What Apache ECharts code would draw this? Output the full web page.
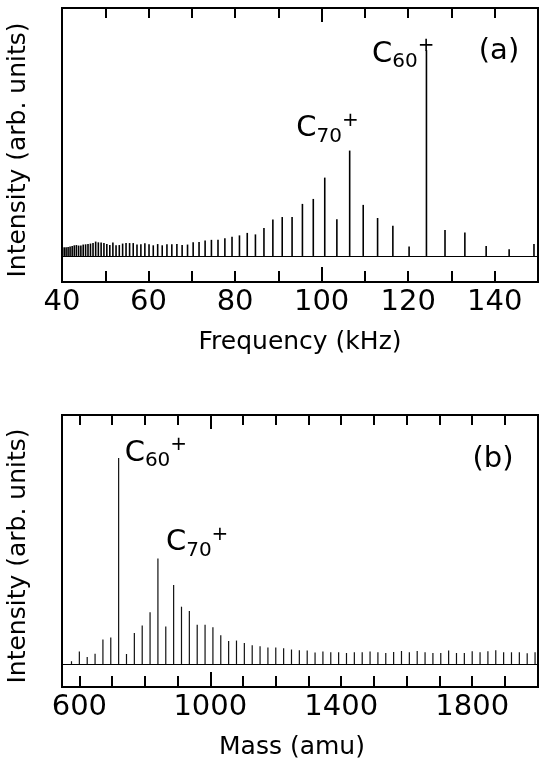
<!DOCTYPE html>
<html>
<head>
<meta charset="utf-8">
<script src="https://cdn.jsdelivr.net/npm/echarts@6/dist/echarts.min.js"></script>
<style>
  html, body { margin: 0; padding: 0; background: #fff; }
  #chart { width: 540px; height: 763px; }
</style>
</head>
<body>
<div id="chart"></div>
<script>
// (a) cyclotron frequency spectrum, peaks C50+ ... C186+
const freqA = [149.07, 143.33, 138.02, 133.10, 128.51, 124.22, 120.21, 116.46, 112.93, 109.61,
    106.48, 103.52, 100.72, 98.07, 95.56, 93.17, 90.89, 88.73, 86.67, 84.70,
    82.81, 81.01, 79.29, 77.64, 76.05, 74.53, 73.07, 71.67, 70.31, 69.01,
    67.76, 66.55, 65.38, 64.25, 63.16, 62.11, 61.09, 60.11, 59.15, 58.23,
    57.33, 56.46, 55.62, 54.80, 54.01, 53.24, 52.49, 51.76, 51.05, 50.36,
    49.69, 49.04, 48.40, 47.78, 47.17, 46.58, 46.01, 45.45, 44.90, 44.36,
    43.84, 43.33, 42.84, 42.35, 41.87, 41.41, 40.95, 40.51, 40.07];
const intensityA = [4.8, 2.7, 4.0, 9.5, 10.5, 83, 3.8, 12.2, 15.3, 20.6,
    42.5, 14.8, 31.6, 23, 21, 15.7, 15.7, 14.7, 11.3, 8.7,
    9.3, 8.3, 7.7, 7.1, 6.5, 6.5, 6.2, 5.6, 5.5, 4.6,
    4.4, 4.8, 4.7, 4.7, 4.3, 4.8, 4.3, 4.7, 5.1, 4.7,
    4.6, 5.2, 5.2, 5.2, 5.0, 4.4, 4.3, 5.4, 4.4, 4.8,
    5.2, 5.4, 5.5, 5.8, 5.2, 5.0, 4.8, 4.7, 4.6, 4.2,
    4.2, 4.4, 4.3, 4.0, 3.8, 3.6, 3.5, 3.5, 3.4];

// (b) mass spectrum, peaks C48+ ... C166+
const massB = [576, 600, 624, 648, 672, 696, 720, 744, 768, 792,
    816, 840, 864, 888, 912, 936, 960, 984, 1008, 1032,
    1056, 1080, 1104, 1128, 1152, 1176, 1200, 1224, 1248, 1272,
    1296, 1320, 1344, 1368, 1392, 1416, 1440, 1464, 1488, 1512,
    1536, 1560, 1584, 1608, 1632, 1656, 1680, 1704, 1728, 1752,
    1776, 1800, 1824, 1848, 1872, 1896, 1920, 1944, 1968, 1992];
const intensityB = [1.1, 5.0, 2.8, 4.1, 9.8, 10.6, 82.7, 4.0, 12.4, 15.5,
    20.8, 42.4, 15.0, 31.7, 23.0, 21.3, 15.8, 15.8, 14.7, 11.5,
    9.2, 9.4, 8.4, 7.5, 7.1, 6.6, 6.6, 6.3, 5.8, 5.5,
    5.4, 4.6, 5.0, 4.7, 4.7, 4.4, 4.7, 4.7, 5.0, 4.7,
    4.4, 4.8, 5.2, 4.7, 5.2, 4.7, 4.4, 4.4, 5.4, 4.4,
    4.4, 5.1, 4.7, 5.1, 5.5, 4.7, 4.7, 4.7, 4.3, 4.7];

const ticksA = [50, 60, 70, 80, 90, 100, 110, 120, 130, 140];
const tickLabelsA = [40, 60, 80, 100, 120, 140];
const ticksB = [600, 700, 800, 900, 1000, 1100, 1200, 1300, 1400, 1500, 1600, 1700, 1800, 1900];
const tickLabelsB = [600, 1000, 1400, 1800];

const FONT = 'DejaVu Sans';

function pairs(xs, ys) {
    return xs.map((x, i) => [x, ys[i]]);
}

function ionLabel(text, sub, align, offset) {
    return {
        show: true,
        position: 'inside',
        align: align,
        verticalAlign: 'middle',
        offset: offset,
        formatter: '{c|' + text + '}{n|' + sub + '}{p|+}',
        rich: {
            c: { fontSize: 29, lineHeight: 36, verticalAlign: 'middle', fontFamily: FONT, color: '#000' },
            n: { fontSize: 20, lineHeight: 20, verticalAlign: 'bottom', fontFamily: FONT, color: '#000' },
            p: { fontSize: 20, lineHeight: 14, verticalAlign: 'top', fontFamily: FONT, color: '#000' }
        }
    };
}

function xAxes(gridIndex, min, max, ticks, labels, longTick, name, namePad) {
    const base = {
        type: 'value', gridIndex: gridIndex, min: min, max: max,
        axisLine: { show: false, onZero: false }, splitLine: { show: false }
    };
    return [
        Object.assign({}, base, {
            position: 'bottom',
            axisTick: { show: true, inside: true, length: 11, customValues: ticks, lineStyle: { color: '#000', width: 2 } },
            axisLabel: {
                show: true, customValues: labels, fontSize: 29, fontFamily: FONT, color: '#000', margin: 6,
                formatter: (v) => String(v)
            },
            name: name, nameLocation: 'middle', nameGap: 48,
            nameTextStyle: { fontSize: 25, fontFamily: FONT, color: '#000', padding: namePad }
        }),
        Object.assign({}, base, {
            position: 'top',
            axisTick: { show: true, inside: true, length: 10, customValues: ticks, lineStyle: { color: '#000', width: 2 } },
            axisLabel: { show: false }
        }),
        Object.assign({}, base, {
            position: 'bottom',
            axisTick: { show: true, inside: true, length: 15, customValues: [longTick], lineStyle: { color: '#000', width: 2 } },
            axisLabel: { show: false }
        }),
        Object.assign({}, base, {
            position: 'top',
            axisTick: { show: true, inside: true, length: 14, customValues: [longTick], lineStyle: { color: '#000', width: 2 } },
            axisLabel: { show: false }
        })
    ];
}

function yAxis(gridIndex, min) {
    return {
        type: 'value', gridIndex: gridIndex, min: min, max: 100,
        axisLine: { show: false, onZero: false }, axisTick: { show: false }, axisLabel: { show: false },
        splitLine: { show: false },
        name: 'Intensity (arb. units)', nameLocation: 'middle', nameGap: 31,
        nameTextStyle: { fontSize: 25, fontFamily: FONT, color: '#000', padding: [0, 10, 0, 0] }
    };
}

const baseline = {
    silent: true, symbol: 'none', label: { show: false },
    lineStyle: { color: '#000', width: 1, type: 'solid' },
    data: [{ yAxis: 0 }]
};

const chart = echarts.init(document.getElementById('chart'));
chart.setOption({
    animation: false,
    backgroundColor: '#fff',
    grid: [
        { left: 62, right: 2, top: 8, height: 274, show: true, borderColor: '#000', borderWidth: 2,
          backgroundColor: 'transparent', containLabel: false, outerBoundsMode: 'none' },
        { left: 62, right: 2, top: 415, height: 272, show: true, borderColor: '#000', borderWidth: 2,
          backgroundColor: 'transparent', containLabel: false, outerBoundsMode: 'none' }
    ],
    xAxis: xAxes(0, 40, 150, ticksA, tickLabelsA, 100, 'Frequency (kHz)', [0, 0, 0, 0])
        .concat(xAxes(1, 547, 2001, ticksB, tickLabelsB, 1000, 'Mass (amu)', [0, 16, 0, 0])),
    yAxis: [yAxis(0, -10.5), yAxis(1, -9.25)],
    graphic: [
        { type: 'text', x: 499, y: 51, style: { text: '(a)', font: '29px "DejaVu Sans"', fill: '#000', textAlign: 'center', textVerticalAlign: 'middle' } },
        { type: 'text', x: 493, y: 459, style: { text: '(b)', font: '29px "DejaVu Sans"', fill: '#000', textAlign: 'center', textVerticalAlign: 'middle' } }
    ],
    series: [
        {
            type: 'bar', xAxisIndex: 0, yAxisIndex: 0,
            barWidth: 1.6, itemStyle: { color: '#000' },
            data: pairs(freqA, intensityA),
            markLine: baseline,
            markPoint: {
                symbolSize: 0,
                data: [
                    { coord: [freqA[5], intensityA[5]], label: ionLabel('C', '60', 'right', [8, 4]) },
                    { coord: [freqA[10], intensityA[10]], label: ionLabel('C', '70', 'right', [9, -22]) }
                ]
            }
        },
        {
            type: 'bar', xAxisIndex: 4, yAxisIndex: 1,
            barWidth: 1.2, itemStyle: { color: '#111' },
            data: pairs(massB, intensityB),
            markLine: baseline,
            markPoint: {
                symbolSize: 0,
                data: [
                    { coord: [massB[6], intensityB[6]], label: ionLabel('C', '60', 'left', [6, -5]) },
                    { coord: [massB[11], intensityB[11]], label: ionLabel('C', '70', 'left', [8, -16]) }
                ]
            }
        }
    ]
});
</script>
</body>
</html>
